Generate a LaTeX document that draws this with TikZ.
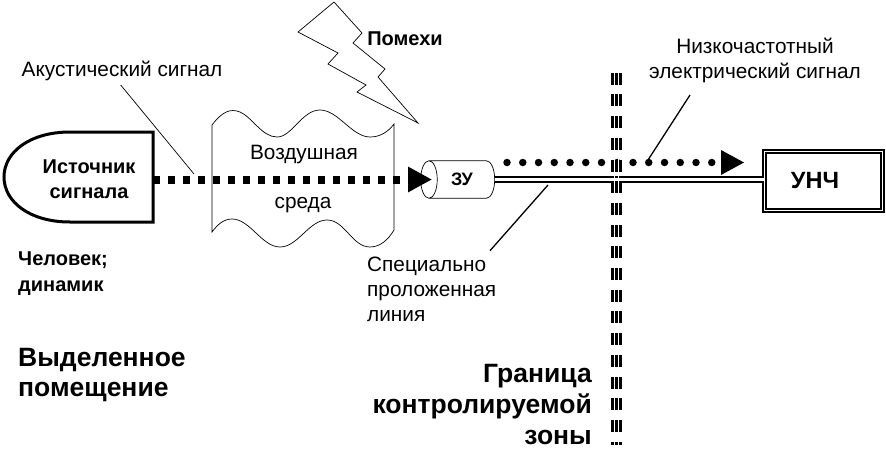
\documentclass[tikz,border=0pt]{standalone}
\usepackage{fontspec}
\setmainfont{Liberation Sans}
\usetikzlibrary{arrows.meta,shapes.geometric}
\tikzset{
  plain/.style={font=\fontsize{20.8}{25}\selectfont,inner sep=0pt,align=center},
  heavy/.style={font=\fontsize{20}{25.5}\bfseries\selectfont,inner sep=0pt,align=left},
  large/.style={font=\fontsize{26.5}{31}\bfseries\selectfont,inner sep=0pt},
  leader/.style={draw,line width=1.3pt},
}
\begin{document}
\begin{tikzpicture}[x=1pt,y=-1pt]
  \useasboundingbox (0,0) rectangle (886,458);
  % source and medium
  \draw[line width=3pt] (153,132) -- (70,132)
    .. controls (30,132) and (4,152) .. (4,177)
    .. controls (4,202) and (30,222) .. (70,222) -- (153,222) -- cycle;
  \node[heavy,align=center] (src) at (89,179) {Источник\\сигнала};
  \draw[line width=0.7pt] (212,125)
    .. controls (222,112) and (230,108) .. (240,112)
    .. controls (252,117) and (262,137) .. (277,137)
    .. controls (292,137) and (302,110) .. (320,110)
    .. controls (338,110) and (352,137) .. (370,137)
    .. controls (380,137) and (388,132) .. (394,124)
    -- (394,230)
    .. controls (388,240) and (380,247) .. (370,247)
    .. controls (352,247) and (345,220) .. (327,220)
    .. controls (309,220) and (298,247) .. (280,247)
    .. controls (262,247) and (250,219) .. (232,219)
    .. controls (224,219) and (218,224) .. (212,232) -- cycle;
  \node[plain] (air1) at (304,155) {Воздушная};
  \node[plain] (air2) at (303,205) {среда};
  % interference
  \draw[line width=0.7pt] (334,2) -- (298,32) -- (338,53) -- (328,64) -- (366,85)
    -- (357,92) -- (418,123) -- (378,77) -- (385,69) -- (353,43) -- (362,33) -- cycle;
  \node[heavy] (noise) at (405,39) {Помехи};
  % signal path
  \node[draw,line width=0.7pt,cylinder,shape border rotate=180,aspect=1.3,
    minimum height=74pt,minimum width=37.5pt,inner sep=0pt,
    font=\fontsize{18}{20}\bfseries\selectfont] (zu) at (462,179.5) {ЗУ};
  \node[draw,double,line width=1.8pt,double distance=1.6pt,
    minimum width=118pt,minimum height=59pt,inner sep=0pt] (lfa) at (823.5,181) {};
  \node[large,font=\fontsize{23.5}{30}\bfseries\selectfont] (lfatext) at (815,181) {УНЧ};
  \coordinate (srcout) at (153,179.5);
  \coordinate (zuin) at (432,179.5);
  \draw[line width=8pt,dash pattern=on 7pt off 8pt,
    -{Triangle[length=24pt,width=24pt]}] (srcout) -- (zuin);
  \draw[double,line width=2pt,double distance=3.5pt] (zu.east) -- (lfa.west |- zu.east);
  \coordinate (dotstart) at (507,162.5);
  \coordinate (dotend) at (712,162.5);
  \coordinate (headend) at (744,162.5);
  \draw[line width=7.5pt,line cap=round,dash pattern=on 0pt off 15.75pt] (dotstart) -- (dotend);
  \path[fill] (headend) -- ++(-23,-12.5) -- ++(0,25) -- cycle;
  % boundary
  \coordinate (borderhi) at (616.5,72.7);
  \coordinate (borderlo) at (616.5,445);
  \draw[line width=11pt,dash pattern=on 12pt off 9.7pt] (borderhi) -- (borderlo);
  \foreach \stripe in {614.3,618.8}
    \draw[white,line width=1.3pt] (\stripe,70) -- (\stripe,448);
  % leaders
  \node[plain] (acoustic) at (122,71) {Акустический сигнал};
  \coordinate (acfoot) at (194,174);
  \draw[line width=0.7pt] (120.7,85) -- (acfoot);
  \node[plain] (lowfreq) at (755,60.5) {Низкочастотный\\электрический сигнал};
  \coordinate (lffrom) at (690,95);
  \coordinate (lfto) at (648,160);
  \draw[leader] (lffrom) -- (lfto);
  \node[plain,align=left,anchor=north west] (line) at (367,256.5) {Специально\\проложенная\\линия};
  \coordinate (linefrom) at (490,250.7);
  \coordinate (lineto) at (548,185);
  \draw[leader] (linefrom) -- (lineto);
  % captions
  \node[heavy,anchor=north west] (person) at (18,252) {Человек;\\динамик};
  \node[large,font=\fontsize{26.5}{30}\bfseries\selectfont,align=left,anchor=north west] (room) at (18,348) {Выделенное\\помещение};
  \node[large,align=right,anchor=north east] (bound) at (592,364.5) {Граница\\контролируемой\\зоны};
\end{tikzpicture}
\end{document}
